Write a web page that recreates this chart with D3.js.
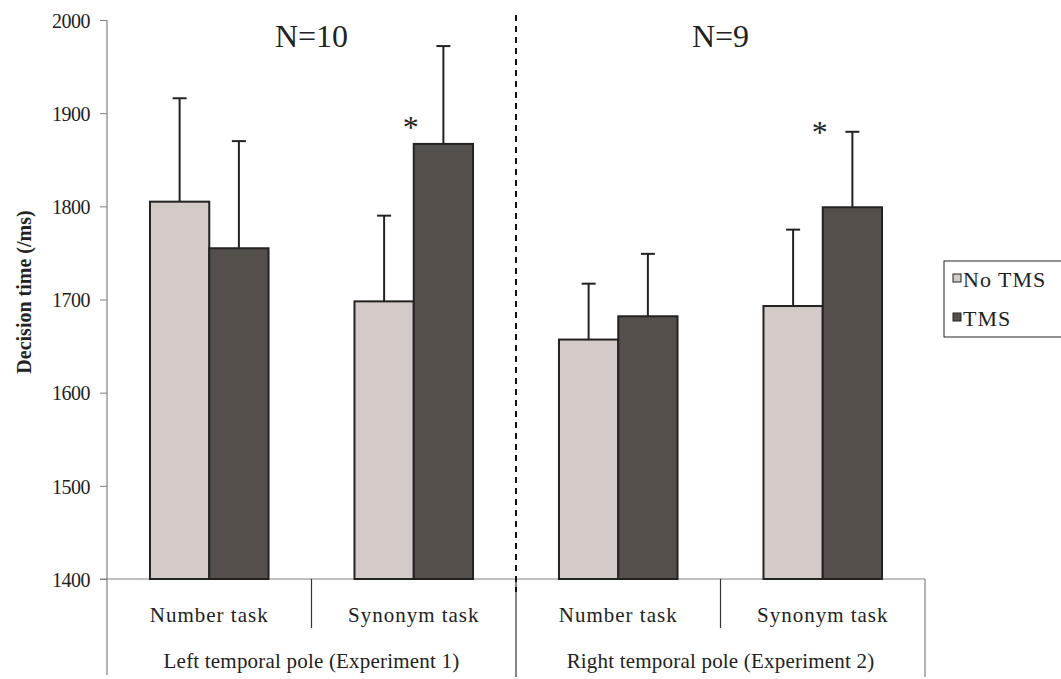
<!DOCTYPE html>
<html>
<head>
<meta charset="utf-8">
<script src="https://cdn.jsdelivr.net/npm/d3@7"></script>
<style>
  body { margin: 0; background: #fff; }
  svg text { font-family: "Liberation Serif", "Times New Roman", serif; fill: #222; }
</style>
</head>
<body>
<div id="chart"></div>
<script>
// Data
const tasks = ["Number task", "Synonym task", "Number task", "Synonym task"];
const experiments = ["Left temporal pole (Experiment 1)", "Right temporal pole (Experiment 2)"];
const groupN = ["N=10", "N=9"];
const seriesNames = ["No TMS", "TMS"];
const noTms = [1805, 1698, 1657, 1693];
const noTmsErr = [1916, 1790, 1717, 1775];
const tms = [1755, 1867, 1682, 1799];
const tmsErr = [1870, 1972, 1749, 1880];
// significance marks (value on the y scale where the star sits, null = none)
const starAt = [null, 1891, null, 1885];
const yTicks = [1400, 1500, 1600, 1700, 1800, 1900, 2000];

window.onload = function () {
    const W = 1061, H = 679;
    const margin = {left: 107, top: 20, right: 136, bottom: 100};
    const colors = ["#d3cbc8", "#554f4c"];

    const svg = d3.select("#chart").append("svg")
      .attr("width", W)
      .attr("height", H);

    // Scales
    const x = d3.scaleBand()
      .domain(d3.range(tasks.length))
      .range([margin.left, W - margin.right])
      .paddingInner(0)
      .paddingOuter(0);

    const xInner = d3.scaleBand()
      .domain([0, 1])
      .range([0, x.bandwidth()])
      .paddingOuter(0.725)
      .paddingInner(0);

    const y = d3.scaleLinear()
      .domain([1400, 2000])
      .range([H - margin.bottom, margin.top]);

    const y0 = y(1400);

    // Y axis
    const yAxis = svg.append("g")
      .attr("transform", `translate(${margin.left},0)`)
      .call(d3.axisLeft(y).tickValues(yTicks).tickSize(7).tickFormat(d3.format("d")));
    yAxis.select(".domain").remove();
    yAxis.selectAll(".tick line").attr("stroke", "#808080");
    yAxis.selectAll(".tick text")
      .attr("x", -17)
      .attr("dy", "0.36em")
      .style("font-size", "20px")
      .style("font-family", "Liberation Serif, serif")
      .style("letter-spacing", "-0.5px")
      .attr("fill", "#222");
    svg.append("line")
      .attr("x1", margin.left).attr("x2", margin.left)
      .attr("y1", margin.top).attr("y2", H - 4)
      .attr("stroke", "#808080").attr("stroke-width", 1.2);

    // X axis baseline
    svg.append("line")
      .attr("x1", margin.left - 7).attr("x2", W - margin.right)
      .attr("y1", y0).attr("y2", y0)
      .attr("stroke", "#808080").attr("stroke-width", 1.2);

    // category separators
    tasks.forEach((t, i) => {
      if (i === 0) return;
      const sx = x(i);
      const long = i % 2 === 0;
      svg.append("line")
        .attr("x1", sx).attr("x2", sx)
        .attr("y1", y0).attr("y2", long ? H - 2 : y0 + 49)
        .attr("stroke", "#333").attr("stroke-width", 1.2);
    });
    svg.append("line")
      .attr("x1", W - margin.right).attr("x2", W - margin.right)
      .attr("y1", y0).attr("y2", H - 2)
      .attr("stroke", "#808080").attr("stroke-width", 1.2);

    // task labels
    svg.selectAll(".task")
      .data(tasks)
      .enter().append("text")
      .attr("class", "task")
      .attr("x", (d, i) => x(i) + x.bandwidth() / 2)
      .attr("y", y0 + 43)
      .attr("text-anchor", "middle")
      .style("font-size", "21px")
      .style("letter-spacing", "1px")
      .text(d => d);

    // experiment labels
    svg.selectAll(".exp")
      .data(experiments)
      .enter().append("text")
      .attr("class", "exp")
      .attr("x", (d, i) => x(i * 2) + x.bandwidth())
      .attr("y", y0 + 89)
      .attr("text-anchor", "middle")
      .style("font-size", "21px")
      .style("letter-spacing", "0.2px")
      .text(d => d);

    // dashed divider between experiments
    svg.append("line")
      .attr("x1", x(2)).attr("x2", x(2))
      .attr("y1", 15).attr("y2", y0 + 13)
      .attr("stroke", "#111").attr("stroke-width", 2)
      .attr("stroke-dasharray", "6,5");

    // N labels
    svg.selectAll(".nlab")
      .data(groupN)
      .enter().append("text")
      .attr("class", "nlab")
      .attr("x", (d, i) => x(i * 2) + x.bandwidth())
      .attr("y", 47)
      .attr("text-anchor", "middle")
      .style("font-size", "32px")
      .text(d => d);

    // Bars
    const series = [
      {vals: noTms, err: noTmsErr},
      {vals: tms, err: tmsErr}
    ];
    series.forEach((s, si) => {
      const g = svg.append("g");
      s.vals.forEach((v, i) => {
        const bx = x(i) + xInner(si);
        const cx = bx + xInner.bandwidth() / 2;
        // error bar
        g.append("line")
          .attr("x1", cx).attr("x2", cx)
          .attr("y1", y(v)).attr("y2", y(s.err[i]))
          .attr("stroke", "#222").attr("stroke-width", 2);
        g.append("line")
          .attr("x1", cx - 7).attr("x2", cx + 7)
          .attr("y1", y(s.err[i])).attr("y2", y(s.err[i]))
          .attr("stroke", "#222").attr("stroke-width", 2);
        g.append("rect")
          .attr("x", bx)
          .attr("y", y(v))
          .attr("width", xInner.bandwidth())
          .attr("height", y0 - y(v))
          .attr("fill", colors[si])
          .attr("stroke", "#222")
          .attr("stroke-width", 2);
      });
    });

    // significance stars
    starAt.forEach((v, i) => {
      if (v === null) return;
      svg.append("text")
        .attr("x", x(i) + x.bandwidth() / 2 - 3)
        .attr("y", y(v) + 16)
        .attr("text-anchor", "middle")
        .style("font-size", "32px")
        .text("*");
    });

    // Y title
    svg.append("text")
      .attr("transform", `translate(31,292) rotate(-90)`)
      .attr("text-anchor", "middle")
      .style("font-size", "20px")
      .style("font-weight", "bold")
      .text("Decision time (/ms)");

    // Legend
    const lg = svg.append("g").attr("transform", "translate(944,261)");
    lg.append("rect")
      .attr("width", 130).attr("height", 76)
      .attr("fill", "#fff").attr("stroke", "#222").attr("stroke-width", 1);
    seriesNames.forEach((n, i) => {
      const ly = 17 + i * 39;
      lg.append("rect")
        .attr("x", 9).attr("y", ly - 4)
        .attr("width", 8).attr("height", 8)
        .attr("fill", colors[i]).attr("stroke", "#222").attr("stroke-width", 1);
      lg.append("text")
        .attr("x", 19).attr("y", ly + 9)
        .style("font-size", "22px")
        .style("letter-spacing", "1px")
        .text(n);
    });
};
</script>
</body>
</html>
